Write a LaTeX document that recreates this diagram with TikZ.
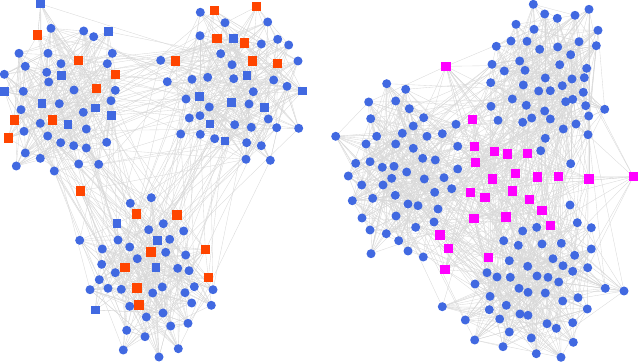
\documentclass[tikz,border=0pt]{standalone}
\usepackage{tikz}
\usetikzlibrary{backgrounds}
\definecolor{nodeblue}{RGB}{65,105,225}
\definecolor{hubred}{RGB}{255,69,0}
\definecolor{hubpink}{RGB}{255,0,255}
\definecolor{edgegray}{RGB}{216,216,216}
\tikzset{
  bdot/.style={circle, fill=nodeblue, inner sep=0pt, minimum size=9pt},
  bsq/.style={rectangle, fill=nodeblue, inner sep=0pt, minimum size=8.5pt},
  osq/.style={rectangle, fill=hubred, inner sep=0pt, minimum size=9.5pt},
  msq/.style={rectangle, fill=hubpink, inner sep=0pt, minimum size=9.5pt},
  edge/.style={draw=edgegray, line width=0.35pt}
}
\begin{document}
\begin{tikzpicture}[x=1pt,y=-1pt]
\useasboundingbox (0,0) rectangle (640,363);
\pgfmathsetseed{4117}
% left graph, upper left group
\foreach \x/\y/\s [count=\i] in {40.7/4/bsq, 51/28.3/bdot, 37.7/35/osq, 83.7/31/bdot, 93.7/36.7/bdot,
  108.3/31.7/bsq, 19/53.3/bdot, 48/53.3/bdot, 112.3/53.3/bdot, 78.7/60.7/osq, 25.3/66.3/bdot,
  61/63.7/bdot, 107.3/63.7/bdot, 4.3/74.3/bdot, 46.7/72.3/bdot, 61.7/75.7/bsq, 115.7/74.3/osq,
  48.7/82/bdot, 4.7/91.7/bsq, 23.3/91.3/bdot, 74/90/bdot, 96.7/88.7/osq, 115.3/90.3/bdot,
  111/100.7/bdot, 42/103.7/bsq, 59.3/103.7/bdot, 95.7/108/bsq, 21/109.7/bdot, 83.3/112.3/bdot,
  111.3/115.3/bsq, 14.3/120/osq, 52.7/120/osq, 40.3/123.3/bdot, 68/124.7/bsq, 86.3/129/bdot,
  24/131.3/bdot, 8.3/138/osq, 47.7/136/bdot, 60.7/142.7/bdot, 73.7/145.7/bdot, 86.3/148/bdot,
  106.7/142.3/bdot, 25.3/153/bdot, 40.3/158.3/bdot, 78.7/164/bdot, 98.7/164.3/bdot,
  16.3/166/bdot, 54.3/171/bdot}
  \node[\s] (a\i) at (\x,\y) {};
% left graph, upper right group
\foreach \x/\y/\s [count=\i] in {200.3/12.3/bdot, 214.3/10.7/osq, 256.7/6.7/osq, 225/22.7/bdot,
  267.7/22/bdot, 200/35.7/bdot, 217/38.7/osq, 233.3/38.3/bsq, 244.3/43/osq, 261.3/44/bdot,
  277.7/39.3/bdot, 288.7/45/bdot, 220.7/53.7/bdot, 160.7/60.3/bdot, 175.7/61/osq, 232/64.7/bdot,
  252.3/61/osq, 277.3/63.7/osq, 298/61/bdot, 167.3/81.7/bdot, 192/79.3/bdot, 207.7/77.3/bdot,
  233.7/78.7/bdot, 247/75.3/bsq, 273.7/80/bdot, 287/86.3/bdot, 302.3/91/bsq, 253.3/91.7/bdot,
  186/99/bdot, 199.7/96.7/bsq, 231.3/102.7/bsq, 249/104/bdot, 209.3/107/bdot, 264.7/107.7/bsq,
  189.3/118/bdot, 200/115.7/bdot, 268.3/119/bdot, 210/124/bsq, 234.7/124.7/bdot,
  251.3/127.3/bdot, 276.7/127.7/bdot, 298.7/128.3/bdot, 180.7/134/bdot, 200.3/134.3/bdot,
  214.7/138.7/bdot, 225/141/bsq, 246.7/142.7/bdot, 261.3/145.7/bdot, 246/159.3/bdot,
  270.3/160.3/bdot}
  \node[\s] (b\i) at (\x,\y) {};
% left graph, lower group
\foreach \x/\y/\s [count=\i] in {80.3/191/osq, 130.3/203.3/bdot, 151.3/197.7/bdot, 136.7/214/osq,
  177/215/osq, 117/223.3/bsq, 163.3/223.7/bdot, 148.7/229.7/bdot, 183.7/231/bdot,
  79.7/240.3/bdot, 118/240/bdot, 157.3/240.7/bsq, 169.7/239.3/bdot, 102.3/249/bdot,
  129.7/247/bdot, 151/252/osq, 165.7/252.3/bdot, 185.7/255/bdot, 205.3/249.7/osq,
  137.3/258.7/bdot, 101.7/264.3/bdot, 125/267.3/osq, 156/267.3/bsq, 177.7/268.3/bdot,
  189/270.7/bdot, 115.3/272.7/bdot, 208.3/277.7/osq, 99.3/279.7/bdot, 90/289.7/bdot,
  108/288.3/bdot, 121.3/289.3/bdot, 137/288/osq, 162.3/287/bdot, 152.7/293/bdot, 185/292.7/bdot,
  194.3/286.7/bdot, 213/289.7/bdot, 95.3/310/bsq, 139/305/osq, 129.7/306.3/bdot,
  191.7/303/bdot, 211.3/305.3/bdot, 146.3/317/bdot, 163/313/bdot, 170.7/326/bdot,
  188/323.3/bdot, 126.7/330.3/bdot, 145/336.7/bdot, 123.3/350/bdot, 159/357/bdot,
  178.3/348.7/bdot}
  \node[\s] (c\i) at (\x,\y) {};
% right graph, left group
\foreach \x/\y [count=\i] in {386.7/83.7, 405.7/89.3, 368.7/102, 395.7/101, 409.3/108.7,
  370.7/118.7, 423.7/117.7, 413.3/126, 456/124.3, 335.7/136.3, 376.7/136.3, 402.3/133.3,
  427/136.3, 442.3/133.7, 366/144, 395.7/144, 413.3/148.3, 457.7/146.3, 422.7/158.3, 435.3/160,
  355.7/163.3, 370/161.7, 382.3/167.3, 394/166.3, 406.7/172, 457.7/169, 348.3/176, 391.7/178.3,
  424.3/179, 444/177.7, 361.7/185, 383/185, 352.3/200.7, 372.7/198.3, 395.3/195.3, 434.7/192.3,
  451.7/188.7, 408/204, 418/205.7, 438/209, 362/218, 396/216, 434/222, 370/230, 415.7/227.3,
  386.3/233.7, 398.7/240.7, 371/253.7, 408/251, 423.3/257}
  \node[bdot] (d\i) at (\x,\y) {};
% right graph, upper group
\foreach \x/\y [count=\i] in {533.3/4.3, 544.7/14, 557.3/18.3, 575/15.3, 589/9.3, 516/24.3,
  534/29.3, 598/30.3, 496.3/46.3, 511/41, 527/41.3, 539.7/49.3, 557.7/47, 579/41.7, 596.3/45.7,
  570.7/54.7, 519.7/61, 492/64.3, 504.3/71, 525/70.3, 559.7/64.7, 586.7/68.3, 545.3/78, 572/79,
  584.3/77.7, 490.7/82.7, 523.3/85, 562.3/85.7, 538.7/91, 550.3/90.7, 583.3/92.3, 512.3/99,
  565.7/101.7, 572.7/99.3, 491/106.3, 526.3/105.3, 585.7/105.7, 604.7/109.3, 544.7/111,
  498/120.3, 522.7/122.3, 531.7/118, 550.3/119, 588.7/116, 576/124, 563.3/129, 588/134.7,
  545.3/138.3, 540.7/150.7, 570.7/163.7}
  \node[bdot] (e\i) at (\x,\y) {};
% right graph, lower group
\foreach \x/\y [count=\i] in {570/205, 577.3/222.7, 591.3/227.7, 522.7/231, 536.7/227.3,
  503.7/240.7, 518.3/245.3, 542/244, 561.3/243.3, 591.3/249, 574.7/255.3, 509.3/260.7,
  553/258.7, 563/265.7, 527.7/266.3, 572.7/271.3, 587.7/267.7, 487/272.7, 497/277, 510.3/277.3,
  537/276, 548/277.3, 558.7/282, 605.3/288.3, 624/291, 519/288.3, 528/292.3, 545.3/293,
  490/296.3, 562.7/301, 578/297.7, 506.3/305.3, 587.3/309, 489.3/309.7, 520/314, 528/315.3,
  499.7/319, 547/323.7, 556.3/328.3, 572.7/322.7, 509.3/332, 531.3/338, 503/346.7, 573.3/342.3,
  536.3/353.7, 561/357.3, 475/284, 442.3/306.7, 465.3/320, 474.7/340}
  \node[bdot] (f\i) at (\x,\y) {};
% right graph, pink nodes
\foreach \x/\y [count=\i] in {446/66.3, 472.7/119.7, 474.7/146.3, 475.3/162.3, 494.7/151.3,
  507.7/154, 527.7/153.3, 492.3/179, 515.3/173.7, 537.7/177, 558.3/176.7, 589/179, 633.3/176.7,
  470.3/192.7, 485/197.3, 512.7/191, 529.3/199.7, 542/210.7, 474/218.7, 506/217, 550.7/225.7,
  440/235, 448.7/248.7, 445/269.7, 488.3/257.3}
  \node[msq] (m\i) at (\x,\y) {};
\begin{scope}[on background layer]
\foreach \i in {1,...,48} \foreach \r in {1,...,5} {\pgfmathrandominteger{\j}{1}{48} \draw[edge] (a\i.center) -- (a\j.center);}
\foreach \i in {1,...,50} \foreach \r in {1,...,5} {\pgfmathrandominteger{\j}{1}{50} \draw[edge] (b\i.center) -- (b\j.center);}
\foreach \i in {1,...,51} \foreach \r in {1,...,5} {\pgfmathrandominteger{\j}{1}{51} \draw[edge] (c\i.center) -- (c\j.center);}
\foreach \i in {1,...,48} {\pgfmathrandominteger{\j}{1}{50} \draw[edge] (a\i.center) -- (b\j.center);}
\foreach \i in {1,...,50} {\pgfmathrandominteger{\j}{1}{51} \draw[edge] (b\i.center) -- (c\j.center);}
\foreach \i in {1,...,51} {\pgfmathrandominteger{\j}{1}{48} \draw[edge] (c\i.center) -- (a\j.center);}
\foreach \i in {1,...,50} \foreach \r in {1,...,5} {\pgfmathrandominteger{\j}{1}{50} \draw[edge] (d\i.center) -- (d\j.center);}
\foreach \i in {1,...,50} \foreach \r in {1,...,5} {\pgfmathrandominteger{\j}{1}{50} \draw[edge] (e\i.center) -- (e\j.center);}
\foreach \i in {1,...,50} \foreach \r in {1,...,5} {\pgfmathrandominteger{\j}{1}{50} \draw[edge] (f\i.center) -- (f\j.center);}
\foreach \i in {1,...,50} {\pgfmathrandominteger{\j}{1}{50} \draw[edge] (d\i.center) -- (e\j.center);}
\foreach \i in {1,...,50} {\pgfmathrandominteger{\j}{1}{50} \draw[edge] (e\i.center) -- (f\j.center);}
\foreach \i in {1,...,50} {\pgfmathrandominteger{\j}{1}{50} \draw[edge] (f\i.center) -- (d\j.center);}
\foreach \i in {1,...,25} \foreach \r in {1,...,3} {
  \pgfmathrandominteger{\j}{1}{50} \draw[edge] (m\i.center) -- (d\j.center);
  \pgfmathrandominteger{\j}{1}{50} \draw[edge] (m\i.center) -- (e\j.center);
  \pgfmathrandominteger{\j}{1}{50} \draw[edge] (m\i.center) -- (f\j.center);
  \pgfmathrandominteger{\j}{1}{25} \draw[edge] (m\i.center) -- (m\j.center);}
\end{scope}
\end{tikzpicture}
\end{document}
